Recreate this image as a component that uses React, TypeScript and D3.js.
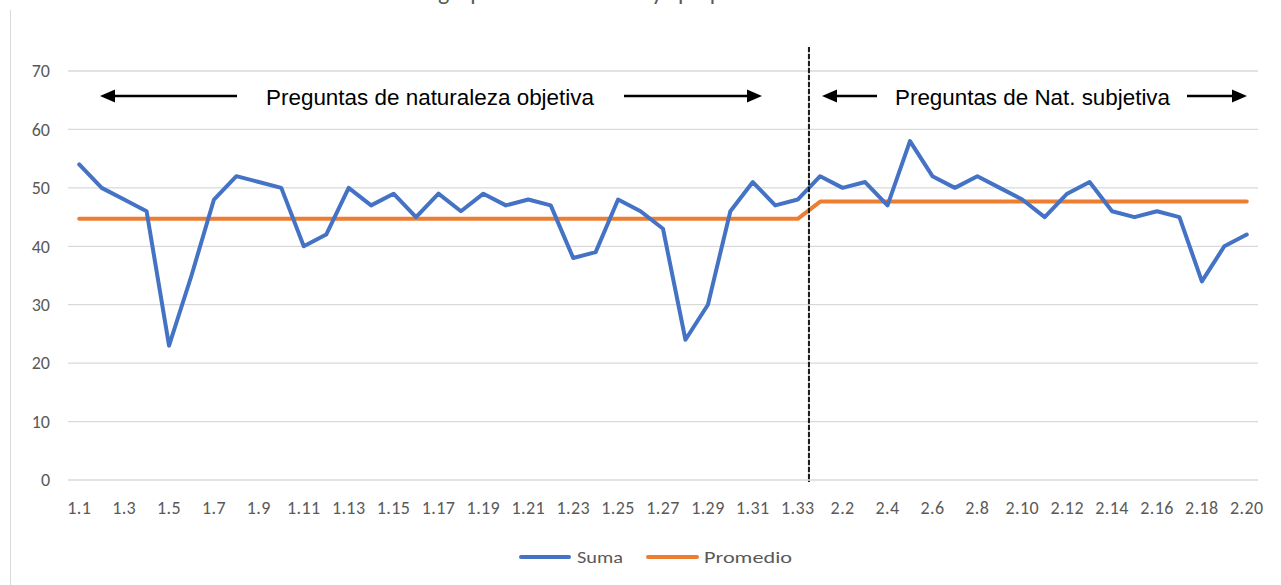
import React from "react";
import * as d3 from "d3";

const categories = [
  "1.1", "1.2", "1.3", "1.4", "1.5", "1.6", "1.7", "1.8", "1.9", "1.10",
  "1.11", "1.12", "1.13", "1.14", "1.15", "1.16", "1.17", "1.18", "1.19", "1.20",
  "1.21", "1.22", "1.23", "1.24", "1.25", "1.26", "1.27", "1.28", "1.29", "1.30",
  "1.31", "1.32", "1.33",
  "2.1", "2.2", "2.3", "2.4", "2.5", "2.6", "2.7", "2.8", "2.9", "2.10",
  "2.11", "2.12", "2.13", "2.14", "2.15", "2.16", "2.17", "2.18", "2.19", "2.20",
];

const suma = [
  54, 50, 48, 46, 23, 35, 48, 52, 51, 50,
  40, 42, 50, 47, 49, 45, 49, 46, 49, 47,
  48, 47, 38, 39, 48, 46, 43, 24, 30, 46,
  51, 47, 48,
  52, 50, 51, 47, 58, 52, 50, 52, 50, 48,
  45, 49, 51, 46, 45, 46, 45, 34, 40, 42,
];

const promedio = [
  44.7, 44.7, 44.7, 44.7, 44.7, 44.7, 44.7, 44.7, 44.7, 44.7,
  44.7, 44.7, 44.7, 44.7, 44.7, 44.7, 44.7, 44.7, 44.7, 44.7,
  44.7, 44.7, 44.7, 44.7, 44.7, 44.7, 44.7, 44.7, 44.7, 44.7,
  44.7, 44.7, 44.7,
  47.65, 47.65, 47.65, 47.65, 47.65, 47.65, 47.65, 47.65, 47.65, 47.65,
  47.65, 47.65, 47.65, 47.65, 47.65, 47.65, 47.65, 47.65, 47.65, 47.65,
];

const yTicks = [0, 10, 20, 30, 40, 50, 60, 70];
const seriesNames = ["Suma", "Promedio"];
const sectionLabels = ["Preguntas de naturaleza objetiva", "Preguntas de Nat. subjetiva"];
const titleWords = ["de grupo", "muy", "pequeño"];

const BLUE = "#4472C4";
const ORANGE = "#ED7D31";
const GRID = "#D9D9D9";
const TXT = "#595959";
const TICK_FONT = "Carlito, Calibri, 'Liberation Sans', 'DejaVu Sans', sans-serif";
const NARROW_FONT = "'Liberation Sans Narrow', 'Arial Narrow', 'Liberation Sans', Arial, sans-serif";

function Arrow({ x1, x2, y }: { x1: number; x2: number; y: number }) {
  const dir = x2 > x1 ? 1 : -1;
  const headLen = 15;
  const half = 6.5;
  const base = x2 - dir * headLen;
  return (
    <g>
      <line x1={x1} x2={base} y1={y} y2={y} stroke="#000" strokeWidth={2.5} />
      <polygon points={`${x2},${y} ${base},${y - half} ${base},${y + half}`} fill="#000" />
    </g>
  );
}

export default function App() {
  const W = 1281;
  const H = 585;
  const x = d3.scaleBand<string>().domain(categories).range([68, 1258]).paddingInner(0).paddingOuter(0);
  const cx = (c: string) => (x(c) as number) + x.bandwidth() / 2;
  const y = d3.scaleLinear().domain([0, 70]).range([480, 71]);

  const line = d3
    .line<number>()
    .x((_, i) => cx(categories[i]))
    .y((d) => y(d));

  const dividerX = x("2.1") as number;
  const xLabels = categories.filter((_, i) => i % 2 === 0);
  const titleX = [408, 620, 678];

  return (
    <svg
      width={W}
      height={H}
      style={{ position: "fixed", left: 0, top: 0, background: "#fff" }}
    >
      <rect x={0} y={0} width={W} height={H} fill="#fff" />
      <line x1={10.5} x2={10.5} y1={10} y2={H} stroke={GRID} strokeWidth={1} />

      {titleWords.map((w, i) => (
        <text key={w} x={titleX[i]} y={0} fontFamily={TICK_FONT} fontSize={24} fill={TXT}>
          {w}
        </text>
      ))}

      {yTicks.map((t) => (
        <line key={t} x1={68} x2={1258} y1={y(t)} y2={y(t)} stroke={GRID} strokeWidth={1.3} />
      ))}

      {yTicks.map((t) => (
        <text
          key={"yl" + t}
          x={50}
          y={y(t)}
          dy="0.35em"
          textAnchor="end"
          fontFamily={TICK_FONT}
          fontSize={18}
          fill={TXT}
        >
          {t}
        </text>
      ))}

      {xLabels.map((c) => (
        <text
          key={"xl" + c}
          x={cx(c)}
          y={514}
          textAnchor="middle"
          fontFamily={TICK_FONT}
          fontSize={18}
          letterSpacing={0.4}
          fill={TXT}
        >
          {c}
        </text>
      ))}

      <path d={line(promedio) || ""} fill="none" stroke={ORANGE} strokeWidth={4} strokeLinejoin="round" strokeLinecap="round" />
      <path d={line(suma) || ""} fill="none" stroke={BLUE} strokeWidth={4} strokeLinejoin="round" strokeLinecap="round" />

      <line x1={dividerX} x2={dividerX} y1={47} y2={482} stroke="#000" strokeWidth={2} strokeDasharray="5,2" />
      <line x1={dividerX} x2={dividerX} y1={47} y2={482} stroke="#555" strokeWidth={0.6} />

      <Arrow x1={237} x2={100} y={96} />
      <text x={266} y={105} fontFamily={NARROW_FONT} fontSize={22} fill="#000" textLength={328} lengthAdjust="spacingAndGlyphs">
        {sectionLabels[0]}
      </text>
      <Arrow x1={624} x2={762} y={96} />

      <Arrow x1={877} x2={822} y={96} />
      <text x={895} y={105} fontFamily={NARROW_FONT} fontSize={22} fill="#000" textLength={275} lengthAdjust="spacingAndGlyphs">
        {sectionLabels[1]}
      </text>
      <Arrow x1={1187} x2={1247} y={96} />

      <line x1={521} x2={569} y1={557} y2={557} stroke={BLUE} strokeWidth={4} strokeLinecap="round" />
      <text x={577} y={563} fontFamily={TICK_FONT} fontSize={17} fill={TXT} textLength={46} lengthAdjust="spacingAndGlyphs">
        {seriesNames[0]}
      </text>
      <line x1={648} x2={697} y1={557} y2={557} stroke={ORANGE} strokeWidth={4} strokeLinecap="round" />
      <text x={704} y={563} fontFamily={TICK_FONT} fontSize={17} fill={TXT} textLength={88} lengthAdjust="spacingAndGlyphs">
        {seriesNames[1]}
      </text>
    </svg>
  );
}
